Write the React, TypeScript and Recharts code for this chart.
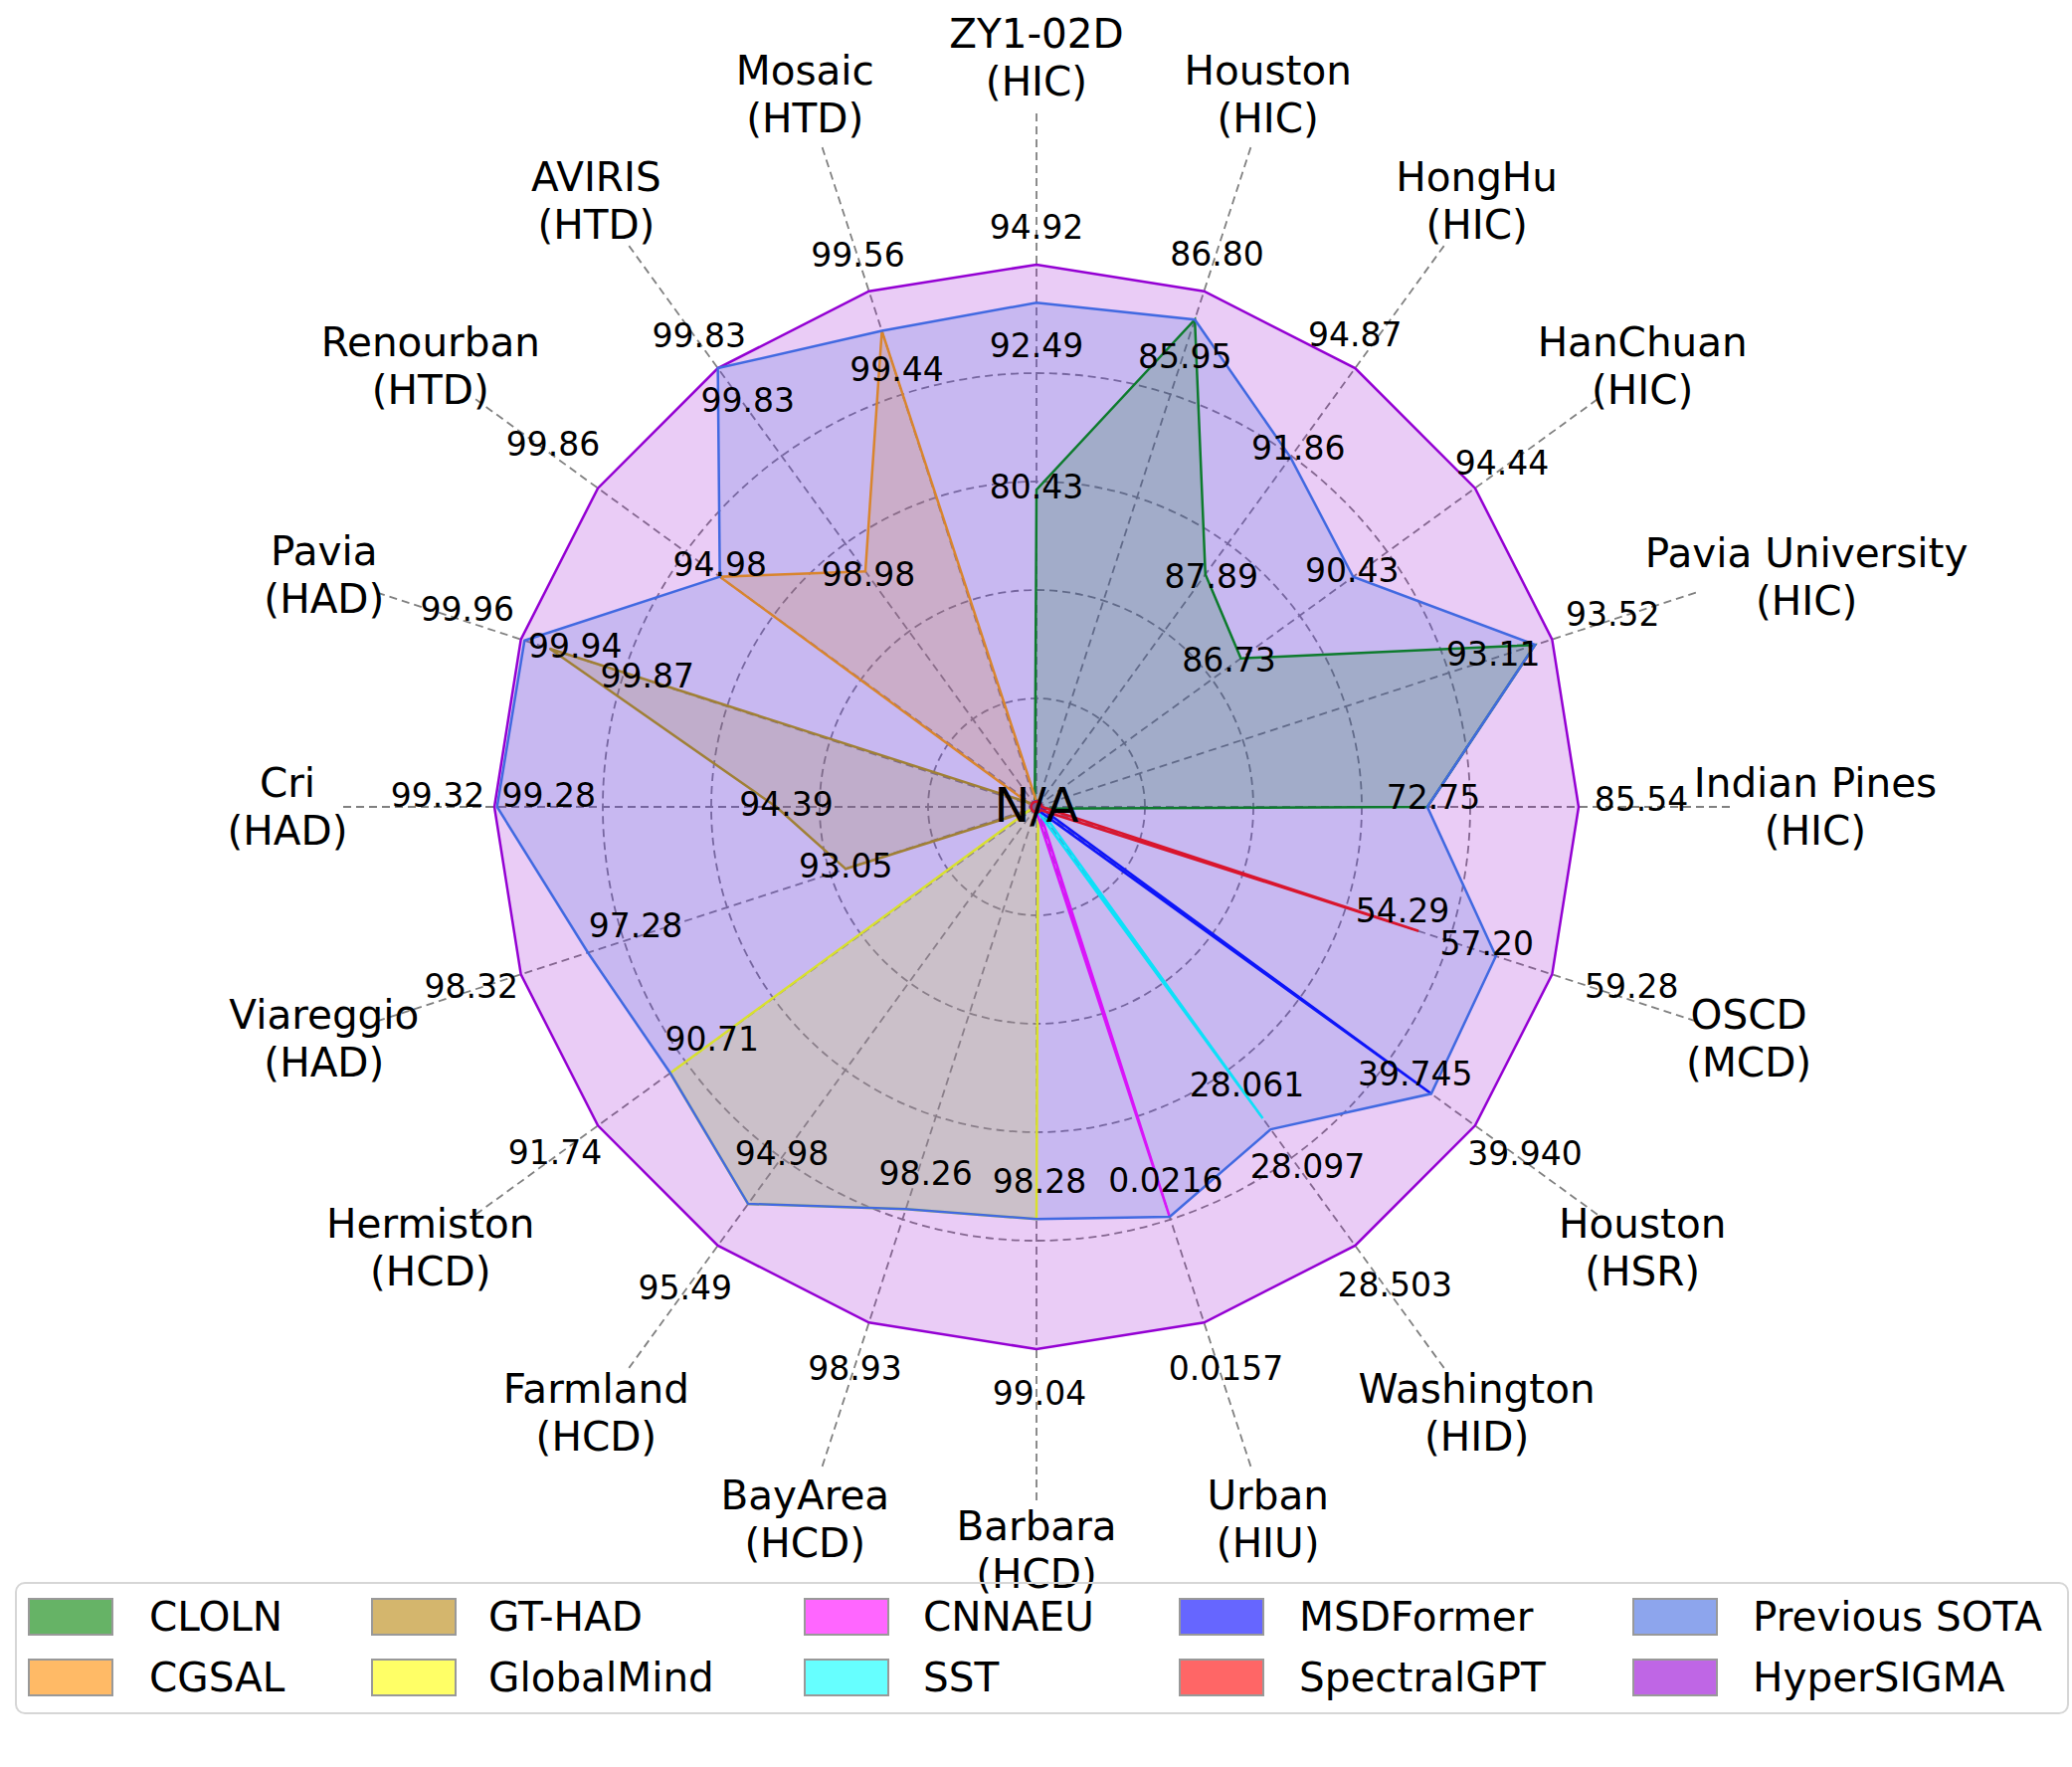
import React from "react";
import { RadarChart, Radar, PolarGrid, PolarAngleAxis, PolarRadiusAxis } from "recharts";

const datasets = [
  "Indian Pines", "Pavia University", "HanChuan", "HongHu", "Houston", "ZY1-02D",
  "Mosaic", "AVIRIS", "Renourban", "Pavia", "Cri", "Viareggio",
  "Hermiston", "Farmland", "BayArea", "Barbara", "Urban", "Washington", "Houston", "OSCD",
];
const tasks = [
  "HIC", "HIC", "HIC", "HIC", "HIC", "HIC",
  "HTD", "HTD", "HTD", "HAD", "HAD", "HAD",
  "HCD", "HCD", "HCD", "HCD", "HIU", "HID", "HSR", "MCD",
];

const _ = null;

// radius on each axis (1 = best score on that dataset), null = N/A
const hyperSigmaR = [1, 1, 1, 1, 1, 1, 1, 1, 1, 1, 1, 1, 1, 1, 1, 1, 1, 1, 1, 1];
const previousSotaR = [0.721, 0.967, 0.722, 0.797, 0.945, 0.93, 0.923, 1.0, 0.722, 0.993, 0.995, 0.87, 0.835, 0.905, 0.78, 0.76, 0.795, 0.735, 0.9, 0.891];
const clolnR = [0.721, 0.967, 0.466, 0.53, 0.945, 0.585, _, _, _, _, _, _, _, _, _, _, _, _, _, _];
const cgsalR = [_, _, _, _, _, _, 0.923, 0.537, 0.722, _, _, _, _, _, _, _, _, _, _, _];
const gtHadR = [_, _, _, _, _, _, _, _, _, 0.944, 0.48, 0.37, _, _, _, _, _, _, _, _];
const globalMindR = [_, _, _, _, _, _, _, _, _, _, _, _, 0.835, 0.905, 0.78, 0.76, _, _, _, _];
const cnnaeuR = [_, _, _, _, _, _, _, _, _, _, _, _, _, _, _, _, 0.795, _, _, _];
const sstR = [_, _, _, _, _, _, _, _, _, _, _, _, _, _, _, _, _, 0.71, _, _];
const msdformerR = [_, _, _, _, _, _, _, _, _, _, _, _, _, _, _, _, _, _, 0.9, _];
const spectralGptR = [_, _, _, _, _, _, _, _, _, _, _, _, _, _, _, _, _, _, _, 0.741];

// printed scores
const hyperSigmaScores = ["85.54", "93.52", "94.44", "94.87", "86.80", "94.92", "99.56", "99.83", "99.86", "99.96", "99.32", "98.32", "91.74", "95.49", "98.93", "99.04", "0.0157", "28.503", "39.940", "59.28"];
const previousSotaScores = ["72.75", "93.11", "90.43", "91.86", "85.95", "92.49", "99.44", "99.83", "94.98", "99.94", "99.28", "97.28", "90.71", "94.98", "98.26", "98.28", "0.0216", "28.097", "39.745", "57.20"];
const clolnScores = [_, _, "86.73", "87.89", _, "80.43", _, _, _, _, _, _, _, _, _, _, _, _, _, _];
const cgsalScores = [_, _, _, _, _, _, _, "98.98", _, _, _, _, _, _, _, _, _, _, _, _];
const gtHadScores = [_, _, _, _, _, _, _, _, _, "99.87", "94.39", "93.05", _, _, _, _, _, _, _, _];
const sstScores = [_, _, _, _, _, _, _, _, _, _, _, _, _, _, _, _, _, "28.061", _, _];
const spectralGptScores = [_, _, _, _, _, _, _, _, _, _, _, _, _, _, _, _, _, _, _, "54.29"];
const noScores: (string | null)[] = [];

type Series = { key: string; name: string; color: string; r: (number | null)[]; scores: (string | null)[] };

const series: Series[] = [
  { key: "cloln", name: "CLOLN", color: "#008000", r: clolnR, scores: clolnScores },
  { key: "cgsal", name: "CGSAL", color: "#ff8c00", r: cgsalR, scores: cgsalScores },
  { key: "gtHad", name: "GT-HAD", color: "#b8860b", r: gtHadR, scores: gtHadScores },
  { key: "globalMind", name: "GlobalMind", color: "#ffff00", r: globalMindR, scores: noScores },
  { key: "cnnaeu", name: "CNNAEU", color: "#ff00ff", r: cnnaeuR, scores: noScores },
  { key: "sst", name: "SST", color: "#00ffff", r: sstR, scores: sstScores },
  { key: "msdformer", name: "MSDFormer", color: "#0000ff", r: msdformerR, scores: noScores },
  { key: "spectralGpt", name: "SpectralGPT", color: "#ff0000", r: spectralGptR, scores: spectralGptScores },
  { key: "previousSota", name: "Previous SOTA", color: "#4169e1", r: previousSotaR, scores: previousSotaScores },
  { key: "hyperSigma", name: "HyperSIGMA", color: "#9400d3", r: hyperSigmaR, scores: hyperSigmaScores },
];

const drawOrder = ["hyperSigma", "cloln", "cgsal", "gtHad", "globalMind", "cnnaeu", "sst", "msdformer", "spectralGpt", "previousSota"];

// layout
const W = 2083;
const H = 1776;
const CX = 1042;
const CY = 811;
const UNIT = 545; // radius of score 1
const RMAX = 1.279; // spokes run a bit past the outer ring
const NA_R = 0.01;
const FONT = "DejaVu Sans";
const STEP = 360 / datasets.length;

// label nudges in px from the data point, per series and axis
const nudges: Record<string, Record<number, [number, number]>> = {
  hyperSigma: {
    0: [63, -8], 1: [61, -25], 2: [27, -25], 3: [0, -34], 4: [13, -37], 5: [0, -38],
    6: [-11, -36], 7: [-19, -33], 8: [-45, -44], 9: [-54, -30], 10: [-57, -12], 11: [-50, 12],
    12: [-43, 27], 13: [-33, 43], 14: [-14, 46], 15: [3, 44], 16: [22, 46], 17: [40, 40], 18: [50, 28], 19: [80, 12],
  },
  previousSota: {
    0: [6, -10], 1: [-42, 9], 2: [-1, -6], 3: [8, -9], 4: [-10, 37], 5: [0, 43],
    6: [15, 39], 7: [30, 32], 8: [0, -12], 9: [51, 6], 10: [52, -12], 11: [48, -27],
    12: [42, -34], 13: [34, -51], 14: [20, -36], 15: [3, -38], 16: [-4, -37], 17: [37, 37], 18: [-16, -20], 19: [-9, -13],
  },
  cloln: { 2: [-12, 2], 3: [6, 2], 5: [0, -3] },
  cgsal: { 7: [3, 3] },
  gtHad: { 9: [98, 27], 10: [10, -3], 11: [0, -3] },
  sst: { 17: [-16, -34] },
  spectralGpt: { 19: [-16, -20] },
};

const LABEL_R = 753;
// a few names sit slightly off the common label ring
const labelShift: Record<number, [number, number]> = { 0: [30, 0], 1: [58, 2], 15: [0, -6] };

const legendColX = [29, 374, 809, 1186, 1642];
const legendTextX = [150, 491, 928, 1306, 1762];
const legendRowY = [1625, 1686];

const axisKeys = datasets.map((d, i) => `${d} (${tasks[i]})`);

const chartData = datasets.map((d, i) => {
  const row: Record<string, string | number> = { axis: axisKeys[i] };
  series.forEach((s) => {
    row[s.key] = s.r[i] ?? NA_R;
  });
  return row;
});

function AxisLabel(props: any) {
  const i = typeof props.index === "number" ? props.index : axisKeys.indexOf(props.payload?.value);
  const a = i * STEP * (Math.PI / 180);
  const [sx, sy] = labelShift[i] ?? [0, 0];
  const x = CX + LABEL_R * Math.cos(a) + sx;
  const y = CY - LABEL_R * Math.sin(a) + sy;
  return (
    <g>
      <text x={x} y={y - 24} textAnchor="middle" dominantBaseline="central" fontSize={40.5} fontFamily={FONT} fill="#000">
        {datasets[i]}
      </text>
      <text x={x} y={y + 24} textAnchor="middle" dominantBaseline="central" fontSize={40.5} fontFamily={FONT} fill="#000">
        ({tasks[i]})
      </text>
    </g>
  );
}

function scoreDot(s: Series) {
  return (p: any) => {
    const text = s.scores[p.index];
    const n = nudges[s.key]?.[p.index];
    if (!text || !n) return <g key={`${s.key}-${p.index}`} />;
    return (
      <text
        key={`${s.key}-${p.index}`}
        x={p.cx + n[0]}
        y={p.cy + n[1]}
        textAnchor="middle"
        dominantBaseline="central"
        fontSize={33}
        fontFamily={FONT}
        fill="#000"
      >
        {text}
      </text>
    );
  };
}

export default function App() {
  const byKey = Object.fromEntries(series.map((s) => [s.key, s]));
  const labelled = series.filter((s) => s.scores.some(Boolean));

  return (
    <div style={{ position: "relative", width: W, height: H, background: "#fff" }}>
      <style>{"body{margin:0}"}</style>
      <RadarChart
        width={W}
        height={H}
        data={chartData}
        cx={CX}
        cy={CY}
        outerRadius={UNIT * RMAX}
        startAngle={-STEP}
        endAngle={360 - STEP}
        margin={{ top: 0, right: 0, bottom: 0, left: 0 }}
      >
        <PolarGrid
          gridType="circle"
          polarRadius={[0.2, 0.4, 0.6, 0.8].map((v) => v * UNIT)}
          stroke="#808080"
          strokeWidth={1.8}
          strokeDasharray="8 5"
        />
        <PolarRadiusAxis domain={[0, RMAX]} type="number" tick={false} axisLine={false} tickLine={false} />
        {drawOrder.map((k) => {
          const s = byKey[k];
          return (
            <Radar
              key={s.key}
              name={s.name}
              dataKey={s.key}
              stroke={s.color}
              strokeWidth={2.5}
              fill={s.color}
              fillOpacity={0.2}
              dot={false}
              isAnimationActive={false}
            />
          );
        })}
        {labelled.map((s) => (
          <Radar
            key={`${s.key}-labels`}
            dataKey={s.key}
            stroke="none"
            fill="none"
            fillOpacity={0}
            legendType="none"
            dot={scoreDot(s)}
            isAnimationActive={false}
          />
        ))}
        <PolarAngleAxis dataKey="axis" tick={AxisLabel} tickLine={false} axisLine={false} />
      </RadarChart>

      <svg width={W} height={H} style={{ position: "absolute", left: 0, top: 0, pointerEvents: "none" }}>
        <text x={CX} y={CY - 2} textAnchor="middle" dominantBaseline="central" fontSize={48} fontFamily={FONT} fill="#000">
          N/A
        </text>
        <rect x={16} y={1591} width={2063} height={131} rx={9} fill="none" stroke="#d6d6d6" strokeWidth={2} />
        {series.map((s, i) => {
          const col = Math.floor(i / 2);
          const row = i % 2;
          const y = legendRowY[row];
          return (
            <g key={s.key}>
              <rect x={legendColX[col]} y={y - 18} width={84} height={36} fill={s.color} fillOpacity={0.6} stroke="#999" strokeWidth={2} />
              <text x={legendTextX[col]} y={y} dominantBaseline="central" fontSize={40.5} fontFamily={FONT} fill="#000">
                {s.name}
              </text>
            </g>
          );
        })}
      </svg>
    </div>
  );
}
